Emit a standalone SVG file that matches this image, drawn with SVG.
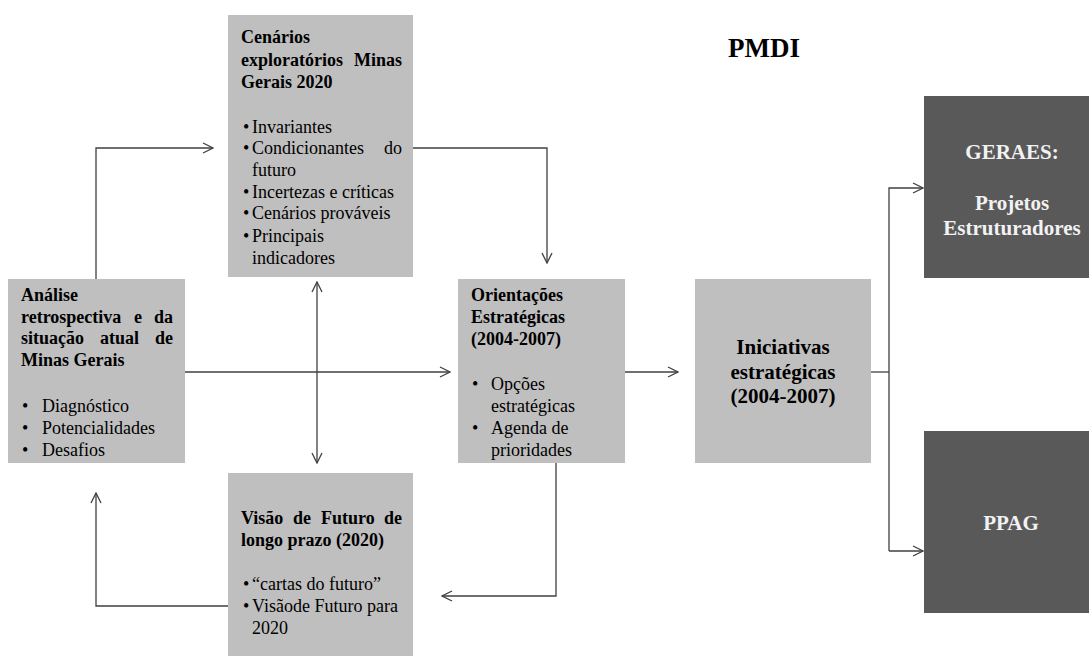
<svg xmlns="http://www.w3.org/2000/svg" width="1089" height="659" viewBox="0 0 1089 659">
<defs>
<style>
text{font-family:"Liberation Serif","Times New Roman",serif;font-size:18px;fill:#000}
.box{fill:#bfbfbf}
.dark{fill:#595959}
.b{font-weight:bold}
.big{font-size:21px;font-weight:bold;text-anchor:middle}
.title{font-size:27px;font-weight:bold}
.w{fill:#f2f2f2}
.c{fill:none;stroke:#404040;stroke-width:1.3}
</style>
<marker id="ah" viewBox="0 0 12 12" refX="11" refY="6" markerWidth="12" markerHeight="12" markerUnits="userSpaceOnUse" orient="auto-start-reverse">
<path d="M1,1 L11,6 L1,11" fill="none" stroke="#404040" stroke-width="1.3"/>
</marker>
</defs>
<rect width="1089" height="659" fill="#fff"/>

<text class="title" x="728" y="57">PMDI</text>

<g id="cenarios">
<rect class="box" x="228" y="15" width="185" height="262"/>
<text class="b" x="241" y="43">Cenários</text>
<text class="b" y="66"><tspan x="241">exploratórios</tspan><tspan x="402" text-anchor="end">Minas</tspan></text>
<text class="b" x="241" y="88">Gerais 2020</text>
<text x="243" y="133">•</text><text x="252" y="133">Invariantes</text>
<text x="243" y="154">•</text><text y="154"><tspan x="252">Condicionantes</tspan><tspan x="402" text-anchor="end">do</tspan></text>
<text x="252" y="176">futuro</text>
<text x="243" y="198">•</text><text x="252" y="198">Incertezas e críticas</text>
<text x="243" y="219">•</text><text x="252" y="219">Cenários prováveis</text>
<text x="243" y="242">•</text><text x="252" y="242">Principais</text>
<text x="252" y="264">indicadores</text>
</g>

<g id="analise">
<rect class="box" x="8" y="279" width="177" height="184"/>
<text class="b" x="21" y="301">Análise</text>
<text class="b" y="323"><tspan x="21">retrospectiva</tspan><tspan x="134">e</tspan><tspan x="173" text-anchor="end">da</tspan></text>
<text class="b" y="344"><tspan x="21">situação</tspan><tspan x="100">atual</tspan><tspan x="173" text-anchor="end">de</tspan></text>
<text class="b" x="21" y="366">Minas Gerais</text>
<text x="22" y="412">•</text><text x="42" y="412">Diagnóstico</text>
<text x="22" y="434">•</text><text x="42" y="434">Potencialidades</text>
<text x="22" y="456">•</text><text x="42" y="456">Desafios</text>
</g>

<g id="orientacoes">
<rect class="box" x="458" y="279" width="167" height="184"/>
<text class="b" x="471" y="301">Orientações</text>
<text class="b" x="471" y="323">Estratégicas</text>
<text class="b" x="471" y="345">(2004-2007)</text>
<text x="472" y="390">•</text><text x="491" y="390">Opções</text>
<text x="491" y="412">estratégicas</text>
<text x="472" y="434">•</text><text x="491" y="434">Agenda de</text>
<text x="491" y="456">prioridades</text>
</g>

<g id="visao">
<rect class="box" x="228" y="473" width="185" height="183"/>
<text class="b" y="524"><tspan x="241">Visão</tspan><tspan x="293">de</tspan><tspan x="321">Futuro</tspan><tspan x="402" text-anchor="end">de</tspan></text>
<text class="b" x="241" y="546">longo prazo (2020)</text>
<text x="243" y="590">•</text><text x="252" y="590">“cartas do futuro”</text>
<text x="243" y="612">•</text><text x="252" y="612">Visãode Futuro para</text>
<text x="252" y="634">2020</text>
</g>

<g id="iniciativas">
<rect class="box" x="695" y="279" width="176" height="184"/>
<text class="big" x="783" y="354">Iniciativas</text>
<text class="big" x="783" y="379">estratégicas</text>
<text class="big" x="783" y="403">(2004-2007)</text>
</g>

<g id="geraes">
<rect class="dark" x="924" y="96" width="165" height="182"/>
<text class="big w" x="1012" y="159">GERAES:</text>
<text class="big w" x="1012" y="210">Projetos</text>
<text class="big w" x="1012" y="235">Estruturadores</text>
</g>

<g id="ppag">
<rect class="dark" x="924" y="431" width="165" height="182"/>
<text class="big w" x="1011" y="530">PPAG</text>
</g>

<g id="connectors">
<polyline class="c" points="96,279 96,148 213,148" marker-end="url(#ah)"/>
<polyline class="c" points="413,148 547,148 547,263" marker-end="url(#ah)"/>
<line class="c" x1="317" y1="282" x2="317" y2="463" marker-start="url(#ah)" marker-end="url(#ah)"/>
<line class="c" x1="185" y1="372" x2="450" y2="372" marker-end="url(#ah)"/>
<line class="c" x1="625" y1="372" x2="678" y2="372" marker-end="url(#ah)"/>
<line class="c" x1="871" y1="372" x2="889" y2="372"/>
<polyline class="c" points="889,551 889,188 923,188" marker-end="url(#ah)"/>
<line class="c" x1="889" y1="551" x2="923" y2="551" marker-end="url(#ah)"/>
<polyline class="c" points="556,463 556,596 442,596" marker-end="url(#ah)"/>
<polyline class="c" points="228,606 96,606 96,493" marker-end="url(#ah)"/>
</g>
</svg>
